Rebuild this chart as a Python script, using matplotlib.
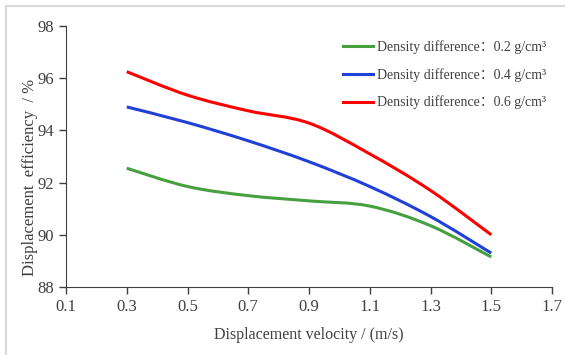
import numpy as np
import matplotlib
matplotlib.use("Agg")
import matplotlib.pyplot as plt
from matplotlib.path import Path
from matplotlib.patches import PathPatch, Rectangle
from matplotlib.lines import Line2D

# velocity (m/s) and displacement efficiency (%) for each density difference
velocity = [0.3, 0.5, 0.7, 0.9, 1.1, 1.3, 1.5]
eff_02 = [92.55, 91.85, 91.5, 91.3, 91.1, 90.35, 89.15]
eff_04 = [94.9, 94.3, 93.6, 92.8, 91.85, 90.7, 89.3]
eff_06 = [96.25, 95.35, 94.75, 94.28, 93.1, 91.7, 90.0]
labels = ["Density difference：0.2 g/cm³",
          "Density difference：0.4 g/cm³",
          "Density difference：0.6 g/cm³"]
colors = ["#46a040", "#2040d8", "#ff0000"]

xticks = [0.1, 0.3, 0.5, 0.7, 0.9, 1.1, 1.3, 1.5, 1.7]
yticks = [88, 90, 92, 94, 96, 98]

serif = ["Liberation Serif", "Noto Sans CJK SC"]
plt.rcParams["font.family"] = serif
txt = "#404040"


def smooth_path(x, y):
    # Catmull-Rom through the points, written as cubic Bezier segments
    p = np.column_stack([x, y]).astype(float)
    ext = np.vstack([p[0], p, p[-1]])
    verts = [p[0]]
    codes = [Path.MOVETO]
    for i in range(len(p) - 1):
        p0, p1, p2, p3 = ext[i], ext[i + 1], ext[i + 2], ext[i + 3]
        verts += [p1 + (p2 - p0) / 6, p2 - (p3 - p1) / 6, p2]
        codes += [Path.CURVE4] * 3
    return Path(verts, codes)


fig = plt.figure(figsize=(5.65, 3.55), dpi=100)
fig.patches.append(Rectangle((6 / 565, -0.1), 1.2, 1 - 6 / 355 + 0.1,
                             transform=fig.transFigure, fill=False,
                             edgecolor="#d9d9d9", linewidth=1.5))
ax = fig.add_axes([66 / 565, 1 - 287 / 355, (552 - 66) / 565, (287 - 26) / 355])

handles = []
for ys, c, lab in zip([eff_02, eff_04, eff_06], colors, labels):
    ax.add_patch(PathPatch(smooth_path(velocity, ys), fill=False,
                           edgecolor=c, linewidth=2.2, capstyle="butt"))
    handles.append(Line2D([], [], color=c, linewidth=2.2, label=lab))

ax.set_xlim(0.1, 1.7)
ax.set_ylim(88, 98)
ax.set_xticks(xticks)
ax.set_xticklabels([f"{v:.1f}" for v in xticks])
ax.set_yticks(yticks)
ax.tick_params(direction="out", length=5, width=1, colors="#404040",
               labelcolor=txt, labelsize=12)
for side in ["top", "right"]:
    ax.spines[side].set_visible(False)
for side in ["left", "bottom"]:
    ax.spines[side].set_color("#404040")

ax.set_xlabel("Displacement velocity / (m/s)", fontsize=11.5, color=txt, labelpad=9)
ax.set_ylabel("Displacement  efficiency  / %", fontsize=12, color=txt)
ax.yaxis.set_label_coords(-0.058, 0.42)

leg = ax.legend(handles=handles, loc="upper left", bbox_to_anchor=(0.57, 0.945),
                frameon=False, borderaxespad=0, borderpad=0,
                handlelength=2.16, handletextpad=0.3, labelspacing=1.0,
                prop={"family": serif, "size": 10})
for t in leg.get_texts():
    t.set_color(txt)

fig.savefig("out.png", dpi=100)
